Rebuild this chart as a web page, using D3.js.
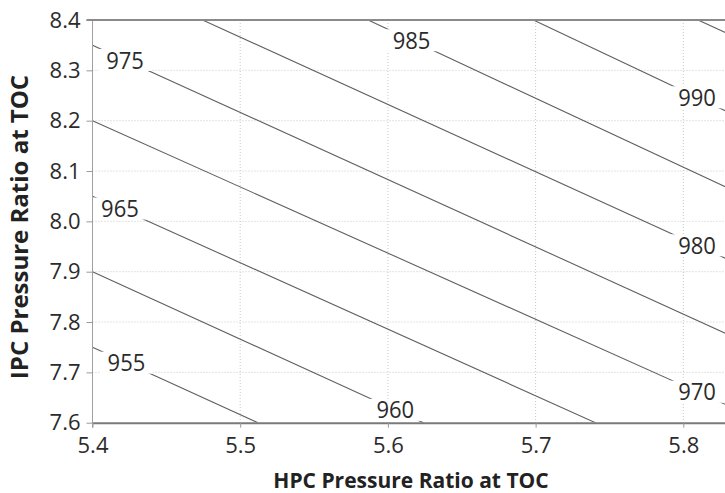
<!DOCTYPE html>
<html>
<head>
<meta charset="utf-8">
<script src="https://cdn.jsdelivr.net/npm/d3@7"></script>
<style>
  body { margin: 0; background: #fff; }
  svg text { font-family: "Open Sans", sans-serif; }
</style>
</head>
<body>
<svg id="chart" width="725" height="493"></svg>
<script>
// contour levels and where each line crosses the plot frame
const levels     = [955, 960, 965, 970, 975, 980, 985, 990, 995];
const lineStartX = [5.4, 5.4, 5.4, 5.4, 5.4, 5.4745, 5.5866, 5.6985, 5.81];
const lineStartY = [7.75, 7.9, 8.05, 8.2, 8.35, 8.4, 8.4, 8.4, 8.4];
const lineEndX   = [5.512, 5.624, 5.7405, 5.85, 5.85, 5.85, 5.85, 5.85, 5.85];
const lineEndY   = [7.6, 7.6, 7.6, 7.608, 7.749, 7.898, 8.039, 8.19, 8.346];

// inline labels: level and the HPC value where the label sits on its line
const labelLevels = [955, 960, 965, 970, 975, 980, 985, 990];
const labelX      = [5.423, 5.605, 5.4186, 5.8093, 5.422, 5.8093, 5.616, 5.8093];

const xTicks = [5.4, 5.5, 5.6, 5.7, 5.8];
const yTicks = [7.6, 7.7, 7.8, 7.9, 8.0, 8.1, 8.2, 8.3, 8.4];

const width = 725, height = 493;
const plotLeft = 92.5, plotTop = 20, plotBottom = 422.7;

const svg = d3.select("#chart");

const x = d3.scaleLinear().domain([5.4, 5.85]).range([plotLeft, plotLeft + 4.5 * 147.7]);
const y = d3.scaleLinear().domain([7.6, 8.4]).range([plotBottom, plotTop]);

// clip for the plot area
svg.append("clipPath").attr("id", "plotClip")
    .append("rect")
    .attr("x", plotLeft).attr("y", plotTop)
    .attr("width", width - plotLeft).attr("height", plotBottom - plotTop);

// grid lines
svg.append("g")
    .selectAll("line")
    .data(xTicks.slice(1))
    .join("line")
    .attr("x1", d => x(d)).attr("x2", d => x(d))
    .attr("y1", plotTop).attr("y2", plotBottom)
    .attr("stroke", "#c8c8c8")
    .attr("stroke-dasharray", "1,2");

svg.append("g")
    .selectAll("line")
    .data(yTicks.slice(1, -1))
    .join("line")
    .attr("x1", plotLeft).attr("x2", width)
    .attr("y1", d => y(d)).attr("y2", d => y(d))
    .attr("stroke", "#c8c8c8")
    .attr("stroke-dasharray", "1,2");

// contour lines
const contours = levels.map((lv, i) => ({
    level: lv,
    pts: [[lineStartX[i], lineStartY[i]], [lineEndX[i], lineEndY[i]]]
}));

const line = d3.line().x(d => x(d[0])).y(d => y(d[1]));

svg.append("g")
    .attr("clip-path", "url(#plotClip)")
    .selectAll("path")
    .data(contours)
    .join("path")
    .attr("d", d => line(d.pts))
    .attr("fill", "none")
    .attr("stroke", "#606060")
    .attr("stroke-width", 1.1);

// labels sit on their line, with a white box cutting the line
const labels = labelLevels.map((lv, i) => {
    const c = contours[levels.indexOf(lv)];
    const [p0, p1] = c.pts;
    const t = (labelX[i] - p0[0]) / (p1[0] - p0[0]);
    return { level: lv, x: labelX[i], y: p0[1] + t * (p1[1] - p0[1]) };
});

const lab = svg.append("g")
    .selectAll("g")
    .data(labels)
    .join("g")
    .attr("transform", d => `translate(${x(d.x)},${y(d.y)})`);

lab.append("rect")
    .attr("x", -26).attr("y", -11)
    .attr("width", 52).attr("height", 22)
    .attr("fill", "#fff");

lab.append("text")
    .attr("text-anchor", "middle")
    .attr("dy", "0.36em")
    .attr("transform", "scale(1,1.08)")
    .style("font-size", "22px")
    .attr("fill", "#2b2b2b")
    .text(d => d.level);

// axes
const xAxis = svg.append("g")
    .attr("transform", `translate(0,${plotBottom})`)
    .call(d3.axisBottom(x).tickValues(xTicks).tickFormat(d3.format(".1f"))
        .tickSize(5).tickSizeOuter(0).tickPadding(10));

xAxis.select(".domain").attr("stroke", "#7a7a7a").attr("stroke-width", 2);
xAxis.selectAll(".tick line").attr("stroke", "#999");
xAxis.selectAll(".tick text")
    .style("font-size", "22px")
    .attr("fill", "#2b2b2b");

const yAxis = svg.append("g")
    .attr("transform", `translate(${plotLeft},0)`)
    .call(d3.axisLeft(y).tickValues(yTicks).tickFormat(d3.format(".1f"))
        .tickSize(6).tickSizeOuter(0).tickPadding(6));

yAxis.select(".domain").attr("stroke", "#a0a0a0").attr("d", `M0,${plotTop}V${plotBottom + 5}`);
yAxis.selectAll(".tick line").attr("stroke", "#999");
yAxis.selectAll(".tick text")
    .style("font-size", "22px")
    .attr("fill", "#2b2b2b");

// top frame
svg.append("line")
    .attr("x1", plotLeft - 6).attr("x2", width)
    .attr("y1", plotTop).attr("y2", plotTop)
    .attr("stroke", "#8a8a8a")
    .attr("stroke-width", 2);

// axis titles
svg.append("text")
    .attr("x", 411)
    .attr("y", 488)
    .attr("text-anchor", "middle")
    .style("font-size", "21px")
    .style("font-weight", "bold")
    .attr("fill", "#222")
    .text("HPC Pressure Ratio at TOC");

svg.append("text")
    .attr("transform", "translate(28,227) rotate(-90)")
    .attr("text-anchor", "middle")
    .style("font-size", "24px")
    .style("font-weight", "bold")
    .attr("fill", "#222")
    .text("IPC Pressure Ratio at TOC");
</script>
</body>
</html>
